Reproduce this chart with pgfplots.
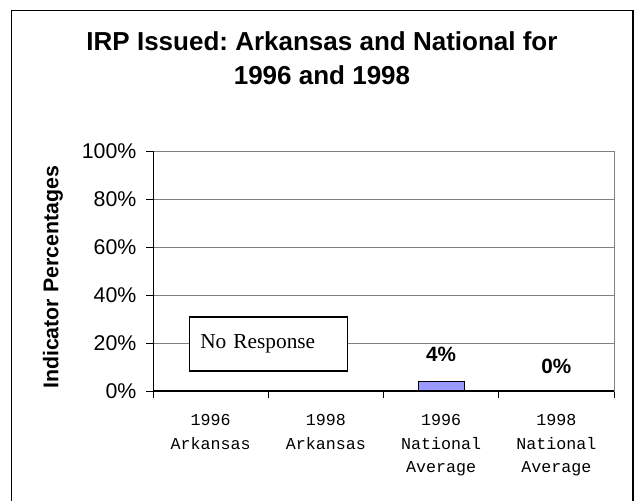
\documentclass[border=0pt]{standalone}
\usepackage{pgfplots}
\pgfplotsset{compat=1.18}
\usepackage{fontspec}
\setmainfont{Liberation Sans}
\newfontfamily\serifont{Liberation Serif}
\newfontfamily\monofont{Liberation Mono}
\definecolor{barblue}{HTML}{9999FF}
\definecolor{gridgray}{HTML}{808080}
\frenchspacing
\begin{document}
\begin{tikzpicture}
  \useasboundingbox (0,0) rectangle (480.75pt,375pt);
  % chart frame, open at the bottom edge
  \draw[line width=0.9pt] (8.6pt,-5pt) -- (8.6pt,367pt) -- (474.75pt,367pt) -- (474.75pt,-5pt);
  \node[anchor=base, font=\fontsize{19.5}{23}\selectfont\bfseries] at (241.5pt,336.75pt)
    {IRP Issued: Arkansas and National for};
  \node[anchor=base, font=\fontsize{19.5}{23}\selectfont\bfseries] at (241.5pt,311.25pt)
    {1996 and 1998};
  \node[rotate=90, font=\fontsize{16}{19}\selectfont\bfseries] at (39.75pt,166.9pt)
    {Indicator Percentages};
  \begin{axis}[
      at={(114.75pt,81.75pt)}, anchor=south west,
      scale only axis, width=345.75pt, height=180pt,
      xmin=-0.5, xmax=3.5, ymin=0, ymax=100,
      axis line style={gridgray},
      tick align=outside, xtick pos=bottom, ytick pos=left,
      major tick length=5.25pt,
      tick style={black, line width=0.6pt},
      ytick={0,20,40,60,80,100},
      yticklabels={0\%,20\%,40\%,60\%,80\%,100\%},
      yticklabel style={font=\fontsize{16}{19}\selectfont, inner sep=0pt, xshift=-7pt},
      ymajorgrids, grid style={gridgray, line width=0.6pt},
      xtick={-0.5,0.5,1.5,2.5,3.5}, xticklabels={},
      extra x ticks={0,1,2,3},
      extra x tick labels={{1996\\Arkansas},{1998\\Arkansas},{1996\\National\\Average},{1998\\National\\Average}},
      extra x tick style={major tick length=0pt},
      xticklabel style={font=\monofont\fontsize{12.5}{17.6}\selectfont, align=center,
        anchor=north, inner sep=0pt, yshift=-17.5pt},
    ]
    \addplot[ybar, bar width=34.5pt, fill=barblue, draw=black, line width=0.9pt]
      coordinates {(2,4) (3,0)};
    \draw[black, line width=0.8pt] (rel axis cs:0,1) -- (rel axis cs:0,0) -- (rel axis cs:1,0);
    \node[draw=black, fill=white, line width=0.9pt, minimum width=118.5pt, minimum height=40.5pt,
      text width=102pt, inner xsep=8.25pt, align=left, font=\serifont\fontsize{16}{19}\selectfont]
      at (axis cs:0.5,19.6) {No Response};
    \node[font=\fontsize{15.5}{18}\selectfont\bfseries] at (axis cs:2,15.4) {4\%};
    \node[font=\fontsize{15.5}{18}\selectfont\bfseries] at (axis cs:3,10.4) {0\%};
  \end{axis}
\end{tikzpicture}
\end{document}
